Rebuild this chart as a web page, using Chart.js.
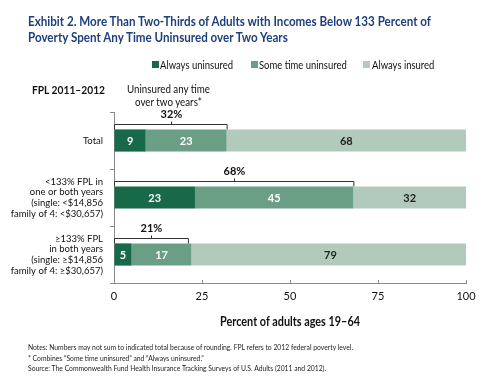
<!DOCTYPE html>
<html>
<head>
<meta charset="utf-8">
<script src="https://cdn.jsdelivr.net/npm/chart.js@4/dist/chart.umd.min.js"></script>
<style>
  body { margin: 0; background: #fff; }
  #wrap { position: relative; width: 500px; height: 388px; font-family: Lato, "Open Sans", sans-serif; color: #111; }
  #chart { position: absolute; left: 0; top: 0; }
  .abs { position: absolute; white-space: nowrap; transform-origin: left top; }
  #title { left: 28px; top: 13px; font-size: 14px; font-weight: bold; color: #1f3f7c; line-height: 16px; }
  #fpl { left: 32px; top: 82px; font-size: 12px; font-weight: bold; }
  #uninsHead { top: 82px; text-align: center; font-size: 11px; line-height: 13px; }
  .leg { top: 58px; font-size: 11px; }
  .sq { position: absolute; width: 7px; height: 7px; top: 61px; }
  #xtitle { left: 220px; top: 313px; font-size: 13px; font-weight: bold; }
  #notes { left: 28px; top: 342px; font-size: 8px; line-height: 10.5px; color: #222; }
</style>
</head>
<body>
<div id="wrap">
  <canvas id="chart" width="500" height="388"></canvas>
  <div id="title" class="abs"><span id="t1">Exhibit 2. More Than Two-Thirds of Adults with Incomes Below 133 Percent of</span><br>Poverty Spent Any Time Uninsured over Two Years</div>
  <div id="fpl" class="abs">FPL 2011–2012</div>
  <div id="uninsHead" class="abs"><span id="u1">Uninsured any time</span><br>over two years*</div>
  <div id="xtitle" class="abs">Percent of adults ages 19–64</div>
  <div id="notes" class="abs"><span id="n1">Notes: Numbers may not sum to indicated total because of rounding. FPL refers to 2012 federal poverty level.</span><br>* Combines “Some time uninsured” and “Always uninsured.”<br>Source: The Commonwealth Fund Health Insurance Tracking Surveys of U.S. Adults (2011 and 2012).</div>
</div>
<script>
var categories = [
  'Total',
  ['<133% FPL in', 'one or both years', '(single: <$14,856', 'family of 4: <$30,657)'],
  ['≥133% FPL', 'in both years', '(single: ≥$14,856', 'family of 4: ≥$30,657)']
];
var alwaysUninsured = [9, 23, 5];
var someTimeUninsured = [23, 45, 17];
var alwaysInsured = [68, 32, 79];
var anyTimeTotals = [32, 68, 21];
var seriesNames = ['Always uninsured', 'Some time uninsured', 'Always insured'];
var seriesColors = ['#17694a', '#6b9f85', '#b2cabc'];
var labelColors = ['#ffffff', '#ffffff', '#222222'];
var xTicks = [0, 25, 50, 75, 100];

var wrap = document.getElementById('wrap');

// squeeze a text block horizontally so its reference line has the target width
function fitWidth(el, refEl, target) {
  var w = refEl.getBoundingClientRect().width;
  var r = target / w;
  el.style.transform = 'scaleX(' + r + ')';
  return r;
}

// legend
var legendSq = [152, 251, 363];
var legendTx = [160, 259, 372];
var legendRatio = 1;
seriesNames.forEach(function(name, i) {
  var sq = document.createElement('div');
  sq.className = 'sq';
  sq.style.left = legendSq[i] + 'px';
  sq.style.background = seriesColors[i];
  wrap.appendChild(sq);
  var t = document.createElement('div');
  t.className = 'abs leg';
  t.style.left = legendTx[i] + 'px';
  t.textContent = name;
  wrap.appendChild(t);
  if (i === 0) legendRatio = 73 / t.getBoundingClientRect().width;
  t.style.transform = 'scaleX(' + legendRatio + ')';
});

fitWidth(document.getElementById('title'), document.getElementById('t1'), 403);
fitWidth(document.getElementById('notes'), document.getElementById('n1'), 325);
var xt = document.getElementById('xtitle');
fitWidth(xt, xt, 140);
var fpl = document.getElementById('fpl');
fitWidth(fpl, fpl, 73);
var uh = document.getElementById('uninsHead');
var uw = uh.getBoundingClientRect().width;
var ur = 83 / document.getElementById('u1').getBoundingClientRect().width;
uh.style.left = (168.5 - uw * ur / 2) + 'px';
uh.style.transform = 'scaleX(' + ur + ')';

var annotatePlugin = {
  id: 'annotate',
  afterDatasetsDraw: function(chart) {
    var ctx = chart.ctx;
    var xs = chart.scales.x;
    ctx.save();

    // value labels inside segments
    ctx.font = 'bold 11px Lato, "Open Sans", sans-serif';
    ctx.textAlign = 'center';
    ctx.textBaseline = 'middle';
    chart.data.datasets.forEach(function(ds, di) {
      var meta = chart.getDatasetMeta(di);
      meta.data.forEach(function(bar, i) {
        var left = Math.min(bar.x, bar.base);
        var right = Math.max(bar.x, bar.base);
        ctx.fillStyle = labelColors[di];
        ctx.fillText(String(ds.data[i]), (left + right) / 2, bar.y + 0.5);
      });
    });

    // brackets over uninsured any time
    var meta0 = chart.getDatasetMeta(0);
    ctx.strokeStyle = '#333';
    ctx.lineWidth = 1;
    anyTimeTotals.forEach(function(total, i) {
      var bar = meta0.data[i];
      var top = bar.y - bar.height / 2;
      var x0 = xs.getPixelForValue(0) + 0.5;
      var x1 = xs.getPixelForValue(total) + 0.5;
      var yb = Math.round(top - 5) + 0.5;
      var xm = Math.round((x0 + x1) / 2) + 0.5;
      ctx.beginPath();
      ctx.moveTo(x0, top);
      ctx.lineTo(x0, yb);
      ctx.lineTo(x1, yb);
      ctx.lineTo(x1, top);
      ctx.moveTo(xm, yb);
      ctx.lineTo(xm, yb - 3);
      ctx.stroke();
      ctx.fillStyle = '#111';
      ctx.font = 'bold 11px Lato, "Open Sans", sans-serif';
      ctx.fillText(total + '%', xm, yb - 10);
    });

    // small inward ticks on x axis
    ctx.strokeStyle = '#8a8a8a';
    xTicks.forEach(function(v) {
      var x = Math.round(xs.getPixelForValue(v)) + 0.5;
      ctx.beginPath();
      ctx.moveTo(x, xs.top);
      ctx.lineTo(x, xs.top - 3);
      ctx.stroke();
    });
    ctx.restore();
  }
};

new Chart(document.getElementById('chart'), {
  type: 'bar',
  data: {
    labels: categories,
    datasets: [
      { label: seriesNames[0], data: alwaysUninsured, backgroundColor: seriesColors[0] },
      { label: seriesNames[1], data: someTimeUninsured, backgroundColor: seriesColors[1] },
      { label: seriesNames[2], data: alwaysInsured, backgroundColor: seriesColors[2] }
    ]
  },
  options: {
    indexAxis: 'y',
    responsive: false,
    animation: false,
    barPercentage: 0.39,
    categoryPercentage: 1,
    layout: { padding: { left: 0, right: 34, top: 112, bottom: 85 } },
    plugins: { legend: { display: false }, tooltip: { enabled: false } },
    scales: {
      x: {
        stacked: true,
        min: 0,
        max: 100,
        afterBuildTicks: function(scale) {
          scale.ticks = xTicks.map(function(v) { return { value: v }; });
        },
        afterFit: function(scale) { scale.height = 20; },
        border: { color: '#8a8a8a', width: 1 },
        grid: { drawOnChartArea: false, drawTicks: false },
        ticks: { padding: 7, color: '#111', font: { family: 'Lato, "Open Sans", sans-serif', size: 11 } }
      },
      y: {
        stacked: true,
        afterFit: function(scale) { scale.width = 114; },
        border: { color: '#8a8a8a', width: 1 },
        grid: { drawOnChartArea: false, offset: true, tickLength: 4, color: '#8a8a8a' },
        ticks: { padding: 7, color: '#111', font: { family: 'Lato, "Open Sans", sans-serif', size: 9.5, lineHeight: 1.12 } }
      }
    }
  },
  plugins: [annotatePlugin]
});
</script>
</body>
</html>
